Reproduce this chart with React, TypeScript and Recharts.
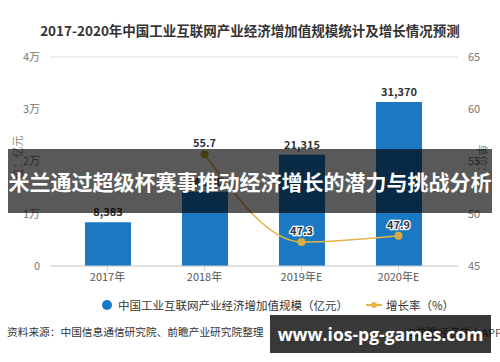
import React from 'react';
import { ComposedChart, Bar, Line, XAxis, YAxis, CartesianGrid, LabelList } from 'recharts';

const years = ['2017年', '2018年', '2019年E', '2020年E'];
const scale = [8383, 14200, 21315, 31370];
const growth: (number | null)[] = [null, 55.7, 47.3, 47.9];
const leftTicks = [0, 10000, 20000, 30000, 40000];
const rightTicks = [45, 50, 55, 60, 65];

const data = years.map((y, i) => ({ year: y, scale: scale[i], growth: growth[i] }));

const FONT = '"Noto Sans CJK SC", "Noto Sans", sans-serif';
const BLUE = '#1b79c3';
const GOLD = '#e3b446';

const fmtLeft = (v: number) => (v === 0 ? '0' : `${v / 10000}万`);

const BarLabel = (props: any) => {
  const { x, y, width, value } = props;
  if (value == null) return null;
  return (
    <text x={x + width / 2} y={y - 6} textAnchor="middle" fontSize={11} fontWeight={700} fill="#333" fontFamily={FONT}>
      {Number(value).toLocaleString('en-US')}
    </text>
  );
};

const LineLabel = (props: any) => {
  const { x, y, value } = props;
  if (value == null) return null;
  return (
    <text x={x} y={y - 7} textAnchor="middle" fontSize={11} fontWeight={700} fill="#334" stroke="#fff" strokeWidth={2.5} paintOrder="stroke" fontFamily={FONT}>
      {value}
    </text>
  );
};

export default function App() {
  return (
    <div style={{ position: 'absolute', left: 0, top: 0, width: 500, height: 362, background: '#fff', fontFamily: FONT, overflow: 'hidden' }}>
      <div style={{ position: 'absolute', left: 0, top: 20, width: 500, textAlign: 'center', fontSize: 13.5, fontWeight: 700, color: '#333', lineHeight: '20px', whiteSpace: 'nowrap' }}>
        2017-2020年中国工业互联网产业经济增加值规模统计及增长情况预测
      </div>
      <ComposedChart width={500} height={362} data={data} margin={{ top: 57, right: 0, left: 0, bottom: 66 }}>
        <CartesianGrid vertical={false} stroke="#e2e2e2" />
        <XAxis
          dataKey="year"
          height={30}
          padding={{ left: 9, right: 11 }}
          axisLine={{ stroke: '#cfcfcf' }}
          tickLine={{ stroke: '#cfcfcf' }}
          tickSize={5}
          tick={{ fontSize: 11, fill: '#555', fontFamily: FONT }}
        />
        <YAxis
          yAxisId="l"
          width={50}
          domain={[0, 40000]}
          ticks={leftTicks}
          tickFormatter={fmtLeft}
          axisLine={false}
          tickLine={false}
          tickMargin={4}
          tick={{ fontSize: 11, fill: '#777', fontFamily: FONT }}
        />
        <YAxis
          yAxisId="r"
          orientation="right"
          width={42}
          domain={[45, 65]}
          ticks={rightTicks}
          axisLine={false}
          tickLine={false}
          tickMargin={4}
          tick={{ fontSize: 11, fill: '#777', fontFamily: FONT }}
        />
        <Bar yAxisId="l" dataKey="scale" fill={BLUE} barSize={46} isAnimationActive={false}>
          <LabelList dataKey="scale" content={BarLabel} />
        </Bar>
        <Line
          yAxisId="r"
          type="monotone"
          dataKey="growth"
          stroke={GOLD}
          strokeWidth={1.5}
          dot={{ r: 4, fill: '#d8ad3e', stroke: '#d8ad3e', strokeWidth: 0 }}
          isAnimationActive={false}
        >
          <LabelList dataKey="growth" content={LineLabel} />
        </Line>
      </ComposedChart>

      {/* axis unit labels */}
      <div style={{ position: 'absolute', left: 17, top: 163, width: 0, height: 0 }}>
        <div style={{ position: 'absolute', left: 0, top: 0, transform: 'translate(-50%, -50%) rotate(-90deg)', fontSize: 11, color: '#888', whiteSpace: 'nowrap', lineHeight: '14px' }}>
          单位：亿元
        </div>
      </div>
      <div style={{ position: 'absolute', left: 483, top: 166, width: 0, height: 0 }}>
        <div style={{ position: 'absolute', left: 0, top: 0, transform: 'translate(-50%, -50%) rotate(90deg)', fontSize: 11, color: '#888', whiteSpace: 'nowrap', lineHeight: '14px' }}>
          单位：%
        </div>
      </div>

      {/* legend */}
      <div style={{ position: 'absolute', left: 102, top: 296, height: 18, display: 'flex', alignItems: 'center', fontSize: 11.5, color: '#333', whiteSpace: 'nowrap' }}>
        <span style={{ width: 10, height: 10, borderRadius: 5, background: BLUE, display: 'inline-block', marginRight: 6 }} />
        <span>中国工业互联网产业经济增加值规模（亿元）</span>
        <svg width={16} height={10} style={{ marginLeft: 18, marginRight: 4 }}>
          <line x1={0} y1={5} x2={16} y2={5} stroke={GOLD} strokeWidth={2} />
          <circle cx={8} cy={5} r={3} fill={GOLD} />
        </svg>
        <span>增长率（%）</span>
      </div>

      {/* source */}
      <div style={{ position: 'absolute', left: 7, top: 323, fontSize: 10.7, color: '#333', whiteSpace: 'nowrap', lineHeight: '18px' }}>
        资料来源：中国信息通信研究院、前瞻产业研究院整理
      </div>
      <div style={{ position: 'absolute', left: 405, top: 323, fontSize: 11, color: '#555', whiteSpace: 'nowrap', lineHeight: '18px' }}>
        @前瞻经济学人APP
      </div>

      {/* overlay banner */}
      <div style={{ position: 'absolute', left: 8, top: 149, width: 484, height: 64, background: 'rgba(0,0,0,0.65)', display: 'flex', alignItems: 'center', justifyContent: 'center' }}>
        <span style={{ color: '#fff', fontSize: 21, fontWeight: 700, whiteSpace: 'nowrap' }}>
          米兰通过超级杯赛事推动经济增长的潜力与挑战分析
        </span>
      </div>

      {/* watermark box */}
      <div style={{ position: 'absolute', left: 270, top: 315, width: 221, height: 38, background: 'rgba(0,0,0,0.78)', display: 'flex', alignItems: 'center', justifyContent: 'center' }}>
        <span style={{ color: '#fff', fontSize: 17.5, fontWeight: 700, whiteSpace: 'nowrap', fontFamily: '"Open Sans", "Noto Sans", sans-serif' }}>
          www.ios-pg-games.com
        </span>
      </div>
    </div>
  );
}
